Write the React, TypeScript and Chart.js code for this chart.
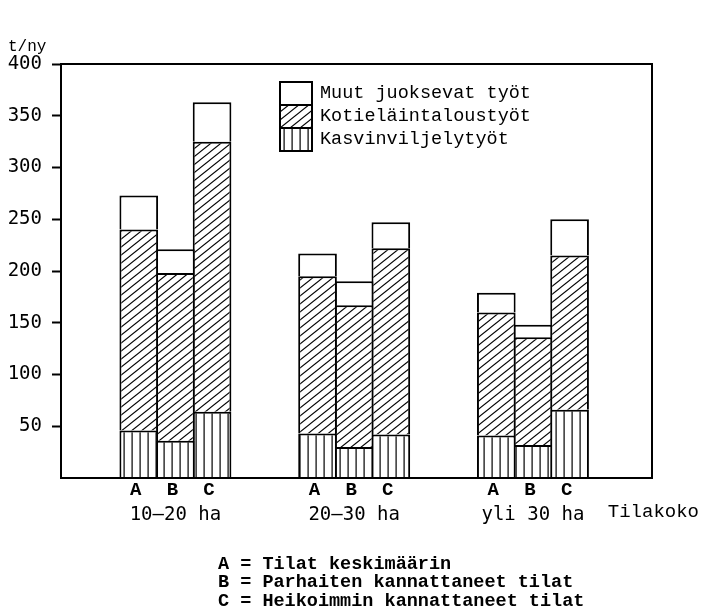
import React, { useEffect, useRef } from 'react';
import { Chart, registerables } from 'chart.js';

Chart.register(...registerables);

// ---- data ----
const groupLabels = ['10–20 ha', '20–30 ha', 'yli 30 ha'];
const farmTypes = ['A', 'B', 'C'];
const seriesLabels = ['Kasvinviljelytyöt', 'Kotieläintaloustyöt', 'Muut juoksevat työt'];
const yTickValues = [50, 100, 150, 200, 250, 300, 350, 400];

// Kasvinviljelytyöt (vertical lines)
const kasviA = [46, 43, 41];
const kasviB = [36, 30, 32];
const kasviC = [64, 42, 66];
// Kotieläintaloustyöt (diagonal hatch)
const kotiA = [194, 152, 119];
const kotiB = [162, 137, 104];
const kotiC = [261, 180, 149];
// Muut juoksevat työt (white)
const muutA = [33, 22, 19];
const muutB = [23, 23, 12];
const muutC = [38, 25, 35];

const explanationLines = [
  'A = Tilat keskimäärin',
  'B = Parhaiten kannattaneet tilat',
  'C = Heikoimmin kannattaneet tilat',
];
const unitLabel = 't/ny';
const axisTitle = 'Tilakoko';

function makeVerticalPattern(): CanvasPattern {
  const c = document.createElement('canvas');
  c.width = 8;
  c.height = 8;
  const g = c.getContext('2d')!;
  g.fillStyle = '#ffffff';
  g.fillRect(0, 0, 8, 8);
  g.fillStyle = '#000000';
  g.fillRect(3.5, 0, 1.2, 8);
  return g.createPattern(c, 'repeat')!;
}

function makeHatchPattern(): CanvasPattern {
  const w = 10;
  const h = 8;
  const c = document.createElement('canvas');
  c.width = w;
  c.height = h;
  const g = c.getContext('2d')!;
  g.fillStyle = '#ffffff';
  g.fillRect(0, 0, w, h);
  g.strokeStyle = '#000000';
  g.lineWidth = 1.1;
  for (const k of [-1, 0, 1]) {
    g.beginPath();
    g.moveTo(-w, 2 * h + k * h);
    g.lineTo(2 * w, -h + k * h);
    g.stroke();
  }
  return g.createPattern(c, 'repeat')!;
}

export default function App() {
  const ref = useRef<HTMLCanvasElement>(null);

  useEffect(() => {
    const canvas = ref.current!;
    const vertical = makeVerticalPattern();
    const hatch = makeHatchPattern();
    const fills: any[] = [vertical, hatch, '#ffffff'];
    const seriesByType = [
      [kasviA, kotiA, muutA],
      [kasviB, kotiB, muutB],
      [kasviC, kotiC, muutC],
    ];

    const datasets: any[] = farmTypes.flatMap((t, k) =>
      seriesByType[k].map((vals, s) => ({
        label: seriesLabels[s] + ' ' + t,
        stack: t,
        data: vals.map((v, g) => ({ x: g + 1, y: v })),
        backgroundColor: fills[s],
        borderColor: '#000000',
        borderWidth: { top: 2, left: 2, right: 2, bottom: 0 },
        borderSkipped: false,
        categoryPercentage: 0.615,
        barPercentage: 1.055,
      }))
    );

    const decor = {
      id: 'decor',
      afterDatasetsDraw(chart: any) {
        const ctx = chart.ctx as CanvasRenderingContext2D;
        const { left, top, right, bottom } = chart.chartArea;
        ctx.save();
        // frame
        ctx.strokeStyle = '#000000';
        ctx.lineWidth = 2;
        ctx.strokeRect(left, top, right - left, bottom - top);

        // A / B / C under every bar
        ctx.fillStyle = '#000000';
        ctx.font = 'bold 19px "Liberation Mono"';
        ctx.textAlign = 'center';
        ctx.textBaseline = 'middle';
        farmTypes.forEach((t, k) => {
          const meta = chart.getDatasetMeta(k * 3);
          meta.data.forEach((el: any) => {
            ctx.fillText(t, el.x - 3, bottom + 12);
          });
        });

        // legend
        const lx = left + 219;
        const ly = top + 18;
        const bw = 32;
        const bh = 23;
        [2, 1, 0].forEach((s, r) => {
          const y = ly + r * bh;
          ctx.fillStyle = fills[s];
          ctx.fillRect(lx, y, bw, bh);
          ctx.lineWidth = 2;
          ctx.strokeStyle = '#000000';
          ctx.strokeRect(lx, y, bw, bh);
          ctx.fillStyle = '#000000';
          ctx.font = '18.5px "Liberation Mono"';
          ctx.textAlign = 'left';
          ctx.textBaseline = 'middle';
          ctx.fillText(seriesLabels[s], lx + 40, y + bh / 2);
        });

        // unit label
        ctx.font = '16px "Liberation Mono"';
        ctx.textAlign = 'left';
        ctx.textBaseline = 'middle';
        ctx.fillText(unitLabel, 8, 47);

        // axis title
        ctx.font = '19px "Liberation Mono"';
        ctx.textAlign = 'right';
        ctx.fillText(axisTitle, 699, bottom + 34);

        // explanations
        ctx.font = 'bold 18.5px "Liberation Mono"';
        ctx.textAlign = 'left';
        explanationLines.forEach((line, i) => {
          ctx.fillText(line, 218, bottom + 86 + i * 18.5);
        });
        ctx.restore();
      },
    };

    const chart = new Chart(canvas, {
      type: 'bar',
      data: { datasets },
      options: {
        animation: false,
        responsive: false,
        layout: { padding: { left: 0, right: 49, top: 64, bottom: 0 } },
        plugins: {
          legend: { display: false },
          tooltip: { enabled: false },
          title: { display: false },
        },
        scales: {
          x: {
            type: 'linear',
            min: 0.36,
            max: 3.666,
            offset: false,
            grid: { display: false },
            border: { display: false },
            afterBuildTicks: (s: any) => {
              s.ticks = groupLabels.map((_, i) => ({ value: i + 1 }));
            },
            afterFit: (s: any) => {
              s.height = 134;
            },
            ticks: {
              callback: (_v: any, i: number) => groupLabels[i],
              color: '#000000',
              font: { family: 'DejaVu Sans Mono', size: 19 },
              padding: 18,
              maxRotation: 0,
              autoSkip: false,
            },
          },
          y: {
            stacked: true,
            min: 0,
            max: 400,
            afterBuildTicks: (s: any) => {
              s.ticks = yTickValues.map((v) => ({ value: v }));
            },
            afterFit: (s: any) => {
              s.width = 61;
            },
            grid: {
              drawOnChartArea: false,
              drawTicks: true,
              tickLength: 9,
              tickWidth: 2,
              tickColor: '#000000',
            },
            border: { display: false },
            ticks: {
              color: '#000000',
              font: { family: 'DejaVu Sans Mono', size: 19 },
              padding: 10,
            },
          },
        },
      } as any,
      plugins: [decor],
    });

    return () => chart.destroy();
  }, []);

  return (
    <div style={{ position: 'absolute', left: 0, top: 0, width: 701, height: 612, background: '#ffffff' }}>
      <canvas ref={ref} width={701} height={612} style={{ display: 'block' }} />
    </div>
  );
}
